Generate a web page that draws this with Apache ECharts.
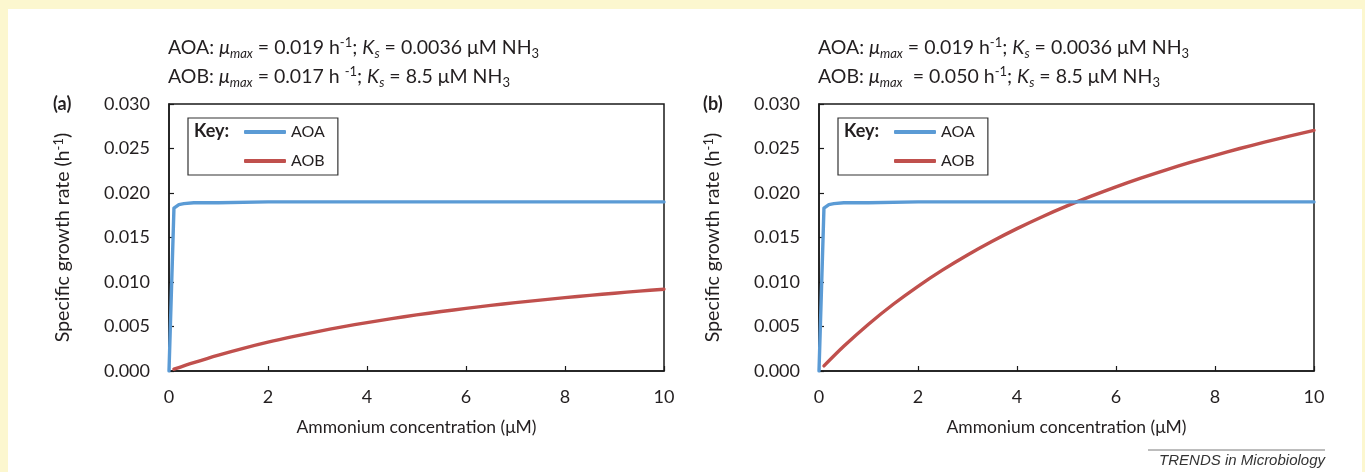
<!DOCTYPE html>
<html>
<head>
<meta charset="utf-8">
<script src="https://cdn.jsdelivr.net/npm/echarts@6/dist/echarts.min.js"></script>
<style>
html,body{margin:0;padding:0;background:#fcf7cf;}
#chart{width:1365px;height:472px;}
</style>
</head>
<body>
<div id="chart"></div>
<script>
// ---- data ----
const xAOA = [0, 0.1, 0.2, 0.3, 0.5, 1, 2, 3, 4, 5, 6, 7, 8, 9, 10];
const yAOA = [0, 0.0183, 0.0187, 0.0188, 0.0189, 0.0189, 0.0190, 0.0190, 0.0190, 0.0190, 0.0190, 0.0190, 0.0190, 0.0190, 0.0190];

const xAOB = [0.1, 0.5, 1, 1.5, 2, 2.5, 3, 3.5, 4, 4.5, 5, 5.5, 6, 6.5, 7, 7.5, 8, 8.5, 9, 9.5, 10];
const yAOB_a = [0.00020, 0.00094, 0.00179, 0.00255, 0.00324, 0.00386, 0.00443, 0.00496, 0.00544, 0.00588, 0.00630, 0.00668, 0.00703, 0.00737, 0.00768, 0.00797, 0.00824, 0.00850, 0.00874, 0.00897, 0.00919];
const yAOB_b = [0.00058, 0.00278, 0.00526, 0.00750, 0.00952, 0.01136, 0.01304, 0.01458, 0.01600, 0.01731, 0.01852, 0.01964, 0.02069, 0.02167, 0.02258, 0.02344, 0.02424, 0.02500, 0.02571, 0.02639, 0.02703];

const xTicks = [0, 2, 4, 6, 8, 10];
const yTicks = [0.000, 0.005, 0.010, 0.015, 0.020, 0.025, 0.030];
const seriesNames = ['AOA', 'AOB'];
const panelLabels = ['(a)', '(b)'];
const titleLines = [
  ['AOA: {mu|μ}{sub|max} = 0.019 h{sup|-1}; {it|K}{sub|s} = 0.0036 μM NH{sub3|3}',
   'AOB: {mu|μ}{sub|max} = 0.017 h {sup|-1}; {it|K}{sub|s} = 8.5 μM NH{sub3|3}'],
  ['AOA: {mu|μ}{sub|max} = 0.019 h{sup|-1}; {it|K}{sub|s} = 0.0036 μM NH{sub3|3}',
   'AOB: {mu|μ}{sub|max}  = 0.050 h{sup|-1}; {it|K}{sub|s} = 8.5 μM NH{sub3|3}']
];
const xName = 'Ammonium concentration (μM)';
const yName = 'Specific growth rate (h{sup|-1})';
const footer = 'TRENDS in Microbiology';

// ---- styling ----
const FONT = 'Lato';
const TXT = '#231f20';
const BLUE = '#5b9bd5';
const RED = '#c0504d';
const gridLefts = [169, 819];
const plotW = 495, plotTop = 104, plotH = 267;
const TF = 19.5;

const richBase = {
  mu: {fontStyle: 'italic', fontFamily: FONT, fontSize: TF, color: TXT, lineHeight: 24},
  it: {fontStyle: 'italic', fontFamily: FONT, fontSize: TF, color: TXT, lineHeight: 24},
  sub: {fontStyle: 'italic', fontFamily: FONT, fontSize: 13, color: TXT, lineHeight: 14, verticalAlign: 'bottom'},
  sub3: {fontFamily: FONT, fontSize: 13, color: TXT, lineHeight: 14, verticalAlign: 'bottom'},
  sup: {fontFamily: FONT, fontSize: 13, color: TXT, lineHeight: 14, verticalAlign: 'top'}
};

const pairs = (xs, ys) => xs.map((x, i) => [x, ys[i]]);

const grids = [], xAxes = [], yAxes = [], series = [], titles = [], legends = [], graphics = [];

graphics.push({type: 'rect', z: -100, shape: {x: 8, y: 9, width: 1354, height: 463}, style: {fill: '#ffffff'}});

[0, 1].forEach(p => {
  const L = gridLefts[p];
  grids.push({left: L, top: plotTop, width: plotW, height: plotH, show: true, borderColor: '#1a1a1a', borderWidth: 1.5, backgroundColor: 'transparent', containLabel: false});
  xAxes.push({
    type: 'value', gridIndex: p, min: 0, max: 10, interval: 2,
    name: xName, nameLocation: 'middle', nameGap: 45,
    nameTextStyle: {fontFamily: FONT, fontSize: 17.5, color: TXT, lineHeight: 22},
    axisLine: {show: true, lineStyle: {color: '#1a1a1a', width: 1.5}},
    axisTick: {show: true, inside: true, length: 5, lineStyle: {color: '#1a1a1a', width: 1.2}},
    axisLabel: {fontFamily: FONT, fontSize: 18, color: TXT, margin: 16, lineHeight: 20},
    splitLine: {show: false}
  });
  yAxes.push({
    type: 'value', gridIndex: p, min: 0, max: 0.03, interval: 0.005,
    name: yName, nameLocation: 'middle', nameGap: 95,
    nameTextStyle: {fontFamily: FONT, fontSize: 19.5, color: TXT, lineHeight: 22, rich: {sup: {fontFamily: FONT, fontSize: 13, color: TXT, lineHeight: 13, verticalAlign: 'top'}}},
    axisLine: {show: true, lineStyle: {color: '#1a1a1a', width: 1.5}},
    axisTick: {show: true, inside: true, length: 5, lineStyle: {color: '#1a1a1a', width: 1.2}},
    axisLabel: {fontFamily: FONT, fontSize: 18, color: TXT, margin: 19, formatter: v => v.toFixed(3)},
    splitLine: {show: false}
  });
  series.push({
    name: seriesNames[0], type: 'line', xAxisIndex: p, yAxisIndex: p,
    data: pairs(xAOA, yAOA), symbol: 'none', smooth: false, z: 3,
    lineStyle: {color: BLUE, width: 3.4, cap: 'round', join: 'round'}, itemStyle: {color: BLUE}
  });
  series.push({
    name: seriesNames[1], type: 'line', xAxisIndex: p, yAxisIndex: p,
    data: pairs(xAOB, p === 0 ? yAOB_a : yAOB_b), symbol: 'none', smooth: 0.3, z: 2,
    lineStyle: {color: RED, width: 3.4, cap: 'round'}, itemStyle: {color: RED}
  });
  titleLines[p].forEach((t, k) => {
    titles.push({
      text: t, left: L - 1, top: 36 + k * 29, padding: 0,
      textStyle: {fontFamily: FONT, fontSize: TF, fontWeight: 'normal', color: TXT, lineHeight: 24, rich: richBase}
    });
  });
  titles.push({text: panelLabels[p], left: L - 116, top: 93, padding: 0,
    textStyle: {fontFamily: FONT, fontSize: 18, fontWeight: 'bold', color: TXT, lineHeight: 22}});
  legends.push({
    data: seriesNames, orient: 'vertical', left: L + 19, top: 118,
    padding: [5, 13, 5, 56], itemGap: 11, itemWidth: 42, itemHeight: 4,
    icon: 'roundRect', borderColor: '#333', borderWidth: 1.2, backgroundColor: '#fff',
    selectedMode: false,
    textStyle: {fontFamily: FONT, fontSize: 16, color: TXT, lineHeight: 18}
  });
  graphics.push({type: 'text', left: L + 25, top: 122, z: 100,
    style: {text: 'Key:', fontFamily: FONT, fontSize: 18, fontWeight: 'bold', fill: TXT}});
});

graphics.push({type: 'line', shape: {x1: 1148, y1: 450, x2: 1325, y2: 450}, style: {stroke: '#7a7a7a', lineWidth: 1}});
graphics.push({type: 'text', right: 40, top: 453,
  style: {text: footer, fontFamily: 'Liberation Sans', fontSize: 15, fontStyle: 'italic', fill: '#333'}});

const chart = echarts.init(document.getElementById('chart'), null, {renderer: 'canvas'});
chart.setOption({
  backgroundColor: '#fcf7cf',
  animation: false,
  title: titles,
  legend: legends,
  grid: grids,
  xAxis: xAxes,
  yAxis: yAxes,
  series: series,
  graphic: graphics
});
</script>
</body>
</html>
